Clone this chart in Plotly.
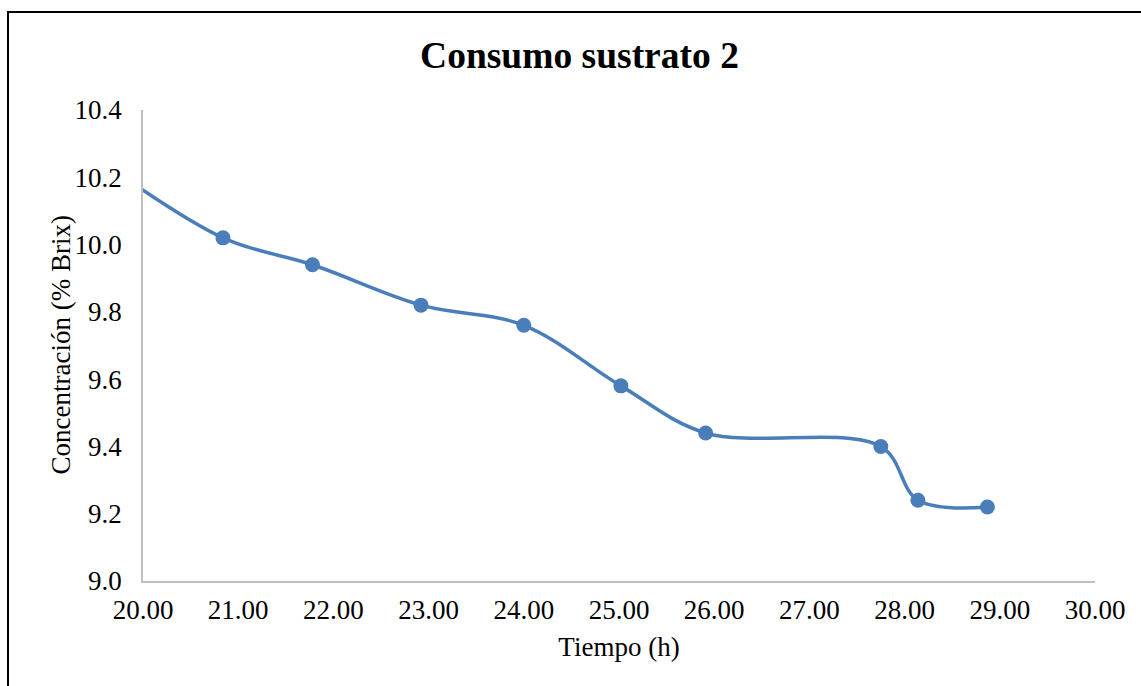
import plotly.graph_objects as go

# Substrate consumption over time (second substrate)
tiempo_h = [19.5, 20.84, 21.78, 22.92, 24.00, 25.02, 25.91, 27.75, 28.14, 28.87]
brix = [10.26, 10.02, 9.94, 9.82, 9.76, 9.58, 9.44, 9.40, 9.24, 9.22]

x_ticks = [20, 21, 22, 23, 24, 25, 26, 27, 28, 29, 30]
x_tick_labels = [f"{v:.2f}" for v in x_ticks]
y_ticks = [9.0, 9.2, 9.4, 9.6, 9.8, 10.0, 10.2, 10.4]
y_tick_labels = [f"{v:.1f}" for v in y_ticks]

line_color = "#4a7ebb"
axis_color = "#bfbfbf"
serif = "Liberation Serif, Times New Roman, serif"

fig = go.Figure()
fig.add_trace(go.Scatter(
    x=tiempo_h,
    y=brix,
    mode="lines+markers",
    line=dict(color=line_color, width=3.5, shape="spline", smoothing=1.0),
    marker=dict(color=line_color, size=15),
    showlegend=False,
))

W, H = 1141, 686
ml, mr, mt, mb = 143, 46, 110, 105
pw, ph = W - ml - mr, H - mt - mb

def px_to_paper_x(px):
    return (px - ml) / pw

def px_to_paper_y(py):
    return (H - mb - py) / ph

fig.update_layout(
    width=W,
    height=H,
    margin=dict(l=ml, r=mr, t=mt, b=mb),
    paper_bgcolor="white",
    plot_bgcolor="white",
    font=dict(family=serif, color="black", size=27),
    title=dict(
        text="<b>Consumo sustrato 2</b>",
        font=dict(family=serif, size=37.5, color="black"),
        x=579.5 / W,
        xanchor="center",
        xref="container",
        y=1 - 55 / H,
        yanchor="middle",
        yref="container",
    ),
    xaxis=dict(
        range=[20, 30],
        tickvals=x_ticks,
        ticktext=x_tick_labels,
        showgrid=False,
        zeroline=False,
        showline=True,
        linecolor=axis_color,
        linewidth=1.5,
        ticks="",
        ticklabelstandoff=4,
        tickfont=dict(family=serif, size=27, color="black"),
        title=dict(text="Tiempo (h)", font=dict(family=serif, size=27, color="black"), standoff=13),
    ),
    yaxis=dict(
        range=[9.0, 10.4],
        tickvals=y_ticks,
        ticktext=y_tick_labels,
        showgrid=False,
        zeroline=False,
        showline=True,
        linecolor=axis_color,
        linewidth=1.5,
        ticks="",
        ticklabelstandoff=14,
        tickfont=dict(family=serif, size=27, color="black"),
    ),
    annotations=[
        dict(
            text="Concentración (% Brix)",
            xref="paper",
            yref="paper",
            x=px_to_paper_x(60),
            y=0.5,
            xanchor="center",
            yanchor="middle",
            textangle=-90,
            showarrow=False,
            font=dict(family=serif, size=27, color="black"),
        )
    ],
    shapes=[
        dict(
            type="rect",
            xref="paper",
            yref="paper",
            x0=px_to_paper_x(8),
            y0=px_to_paper_y(730),
            x1=px_to_paper_x(1190),
            y1=px_to_paper_y(12),
            line=dict(color="black", width=2),
            fillcolor="rgba(0,0,0,0)",
            layer="below",
        )
    ],
)

fig.write_html("out.html")
